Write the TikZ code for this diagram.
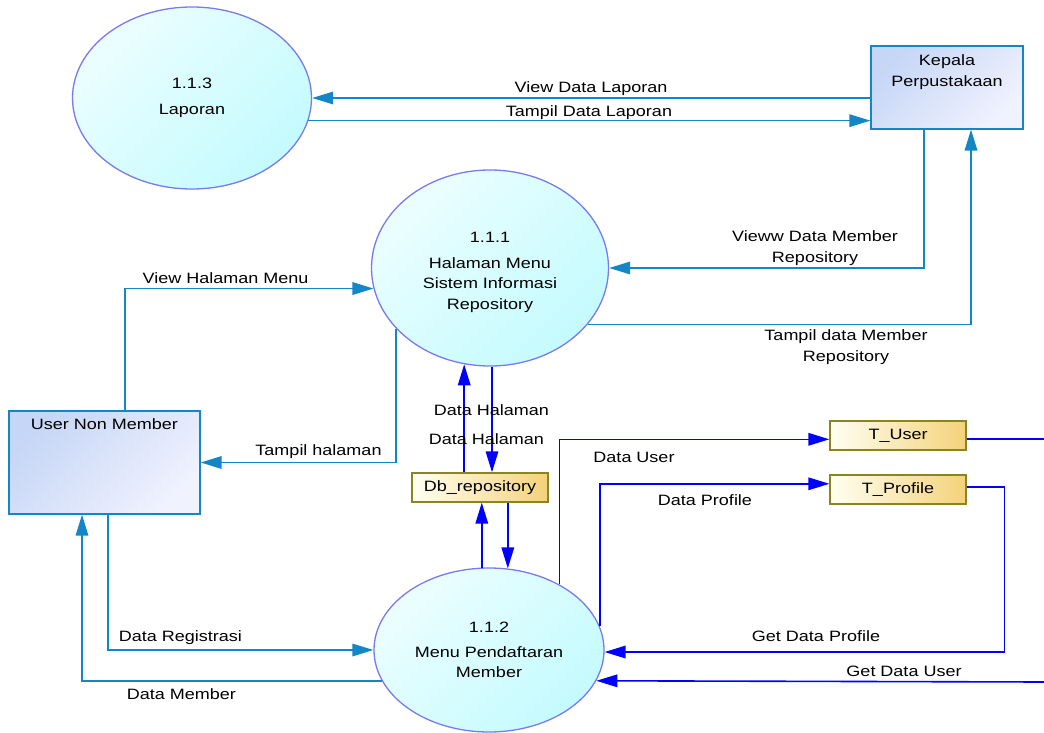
\documentclass[tikz,border=0pt]{standalone}
\usepackage{fontspec}
\setmainfont[FakeStretch=1.2]{Liberation Sans}
\usetikzlibrary{shapes.geometric,arrows.meta}

\definecolor{flowblue}{RGB}{18,134,198}
\definecolor{storeblue}{RGB}{0,0,255}
\definecolor{procline}{RGB}{122,122,240}
\definecolor{procA}{RGB}{236,254,255}
\definecolor{procB}{RGB}{196,251,254}
\definecolor{extA}{RGB}{198,214,246}
\definecolor{extB}{RGB}{240,242,254}
\definecolor{storeA}{RGB}{255,255,242}
\definecolor{storeB}{RGB}{244,210,122}
\definecolor{storeline}{RGB}{140,132,32}

\tikzset{
  proc/.style={ellipse, draw=procline, line width=1.3pt, top color=procA,
    bottom color=procB, shading angle=45, inner sep=0pt, align=center},
  ext/.style={rectangle, draw=flowblue, line width=1.3pt, top color=extA,
    bottom color=extB, shading angle=45, inner sep=0pt},
  store/.style={rectangle, draw=storeline, line width=1.3pt, left color=storeA,
    right color=storeB, inner sep=0pt, minimum width=136pt, minimum height=29pt},
  flow/.style={flowblue, line width=1.6pt, -{Triangle[length=21pt,width=12.5pt]}},
  dflow/.style={storeblue, line width=1.6pt, -{Triangle[length=21pt,width=12.5pt]}},
  lbl/.style={inner sep=0pt, align=center}
}

\begin{document}
\begin{tikzpicture}[x=1pt, y=-1pt, font=\fontsize{15}{20.5}\selectfont]
  \useasboundingbox (0,0) rectangle (1044,733);

  % processes
  \node[proc, minimum width=239pt, minimum height=182pt] (laporan) at (192,98) {1.1.3\\[5pt]Laporan};
  \node[proc, minimum width=237pt, minimum height=196pt,
    label={[lbl, yshift=-4pt]center:1.1.1\\[5.5pt]Halaman Menu\\Sistem Informasi\\Repository}]
    (halaman) at (490,268) {};
  \node[proc, minimum width=230pt, minimum height=164pt] (pendaftaran) at (489,650)
    {1.1.2\\[4.5pt]Menu Pendaftaran\\Member};

  % external entities
  \node[ext, minimum width=152pt, minimum height=83pt,
    label={[lbl, anchor=north, yshift=-9.5pt]north:Kepala\\Perpustakaan}] (kepala) at (947,87.4) {};
  \node[ext, minimum width=191pt, minimum height=103pt,
    label={[lbl, anchor=north, yshift=-8.5pt]north:User Non Member}] (user) at (104.5,462.5) {};

  % data stores
  \node[store] (db) at (480,487.5) {Db\_repository};
  \node[store] (tuser) at (898,435.5) {T\_User};
  \node[store] (tprofile) at (898,489.5) {T\_Profile};

  \coordinate (userout) at (1044,439);
  \coordinate (userin) at (1044,682);

  % Kepala <-> Laporan
  \draw[flow] (kepala.west |- laporan.east) -- (laporan.east);
  \draw[flow] (laporan.-11.7) -- (laporan.-11.7 -| kepala.west);
  \node[lbl] (lViewLap) at (591,89) {View Data Laporan};
  \node[lbl] (lTampilLap) at (589,113) {Tampil Data Laporan};

  % Kepala <-> Halaman
  \draw[flow] ([xshift=-23pt]kepala.south) |- (halaman.east);
  \draw[flow] (halaman.-30.6) -| ([xshift=24pt]kepala.south);
  \node[lbl] (lViewMem) at (815,248) {Vieww Data Member\\Repository};
  \node[lbl] (lTampilMem) at (846,347) {Tampil data Member\\Repository};

  % User <-> Halaman
  \draw[flow] ([xshift=20.5pt]user.north) |- (halaman.190.8);
  \draw[flow] (halaman.213.1) |- (user.east);
  \node[lbl] (lViewMenu) at (225.5,278) {View Halaman Menu};
  \node[lbl] (lTampilHal) at (318.5,452) {Tampil halaman};

  % Halaman <-> Db
  \draw[dflow] (db.north -| halaman.255.8) -- (halaman.255.8);
  \draw[dflow] ([xshift=2pt]halaman.south) -- ([xshift=2pt]halaman.south |- db.north);
  \node[lbl] (lDataHal1) at (491.5,410) {Data Halaman};
  \node[lbl] (lDataHal2) at (486.5,439) {Data Halaman};

  % Db <-> Pendaftaran
  \draw[dflow] (pendaftaran.95.8) -- (pendaftaran.95.8 |- db.south);
  \draw[dflow] (db.south -| pendaftaran.77) -- (pendaftaran.77);

  % Pendaftaran <-> tables
  \draw[dflow] (pendaftaran.43.6) |- ([yshift=-3.8pt]tuser.west);
  \draw[dflow] (pendaftaran.12.3) |- ([yshift=5.7pt]tprofile.west);
  \draw[dflow] ([yshift=2.7pt]tprofile.east) -- ++(38,0) |- (pendaftaran.-1.4);
  \draw[storeblue, line width=1.6pt] ([yshift=-3.5pt]tuser.east) -- (userout);
  \draw[dflow] (userin) -- (pendaftaran.-16.8);
  \node[lbl] (lDataUser) at (634,457) {Data User};
  \node[lbl] (lDataProf) at (705,500) {Data Profile};
  \node[lbl] (lGetProf) at (816,636) {Get Data Profile};
  \node[lbl] (lGetUser) at (904,671) {Get Data User};

  % User <-> Pendaftaran
  \draw[flow] ([xshift=3.5pt]user.south) |- (pendaftaran.west);
  \draw[flow] (pendaftaran.196.8) -| ([xshift=-22.5pt]user.south);
  \node[lbl] (lDataReg) at (180.5,638) {Data Registrasi};
  \node[lbl] (lDataMem) at (181.5,694) {Data Member};
\end{tikzpicture}
\end{document}
